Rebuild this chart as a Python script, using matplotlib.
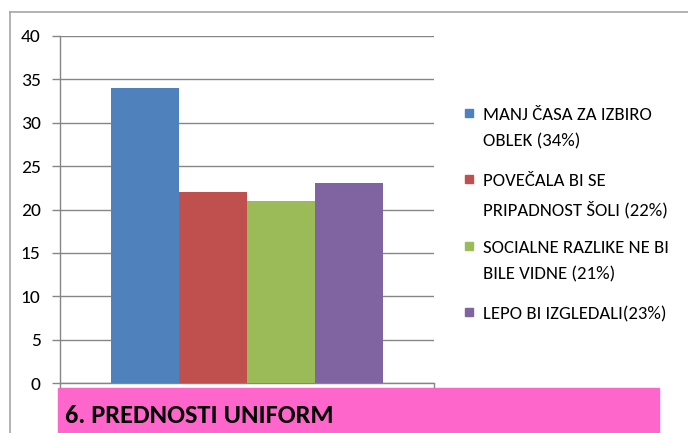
import matplotlib
matplotlib.use("Agg")
import matplotlib.pyplot as plt
from matplotlib.patches import Rectangle
from matplotlib.lines import Line2D

# podatki
labels = ["MANJ ČASA ZA IZBIRO\nOBLEK (34%)",
          "POVEČALA BI SE\nPRIPADNOST ŠOLI (22%)",
          "SOCIALNE RAZLIKE NE BI\nBILE VIDNE (21%)",
          "LEPO BI IZGLEDALI(23%)"]
values = [34, 22, 21, 23]
colors = ["#4F81BD", "#C0504D", "#9BBB59", "#8064A2"]
yticks = [0, 5, 10, 15, 20, 25, 30, 35, 40]
title = "6. PREDNOSTI UNIFORM"

plt.rcParams["font.family"] = ["Carlito", "DejaVu Sans"]
GRID = "#868686"

W, H = 688, 433
fig = plt.figure(figsize=(W / 100, H / 100), dpi=100)

# okvir grafikona (zgoraj in levo)
fig.add_artist(Line2D([10 / W, 10 / W], [0, 1 - 12 / H], color="#A6A6A6", lw=1.2))
fig.add_artist(Line2D([10 / W, 1], [1 - 12 / H, 1 - 12 / H], color="#A6A6A6", lw=1.2))

ax = fig.add_axes([60 / W, (H - 383) / H, 374 / W, 347 / H])
bw = 68 / 374
for i, (v, c) in enumerate(zip(values, colors)):
    ax.bar(0.5 + (i - 1.5) * bw, v, width=bw, color=c, zorder=3)

ax.set_xlim(0, 1)
ax.set_ylim(0, 40)
ax.set_yticks(yticks)
ax.set_yticklabels([str(t) for t in yticks], fontsize=14, color="#000000")
ax.set_xticks([0, 1])
ax.set_xticklabels(["", ""])
ax.tick_params(axis="y", length=6, color=GRID, width=1, pad=8)
ax.tick_params(axis="x", length=5, color=GRID, width=1)
ax.grid(axis="y", color=GRID, lw=1, zorder=0)
for s in ["top", "right"]:
    ax.spines[s].set_visible(False)
for s in ["left", "bottom"]:
    ax.spines[s].set_color(GRID)
    ax.spines[s].set_linewidth(1)

# legenda
tops = [106, 172, 239, 305]
for lab, c, t in zip(labels, colors, tops):
    fig.add_artist(Rectangle((465 / W, 1 - (t + 11) / H), 8 / W, 8 / H,
                             transform=fig.transFigure, color=c))
    fig.text(483 / W, 1 - (t + 1) / H, lab, fontsize=13.5, va="top", ha="left",
             linespacing=1.82, color="#000000")

# roza naslov
fig.add_artist(Rectangle((58 / W, 0), 601 / W, 45 / H,
                         transform=fig.transFigure, color="#FF66CC", zorder=5))
fig.text(65 / W, 1 - 423 / H, title, fontsize=19, fontweight="bold",
         va="baseline", ha="left", color="#000000", zorder=6)

fig.savefig("out.png", dpi=100)
